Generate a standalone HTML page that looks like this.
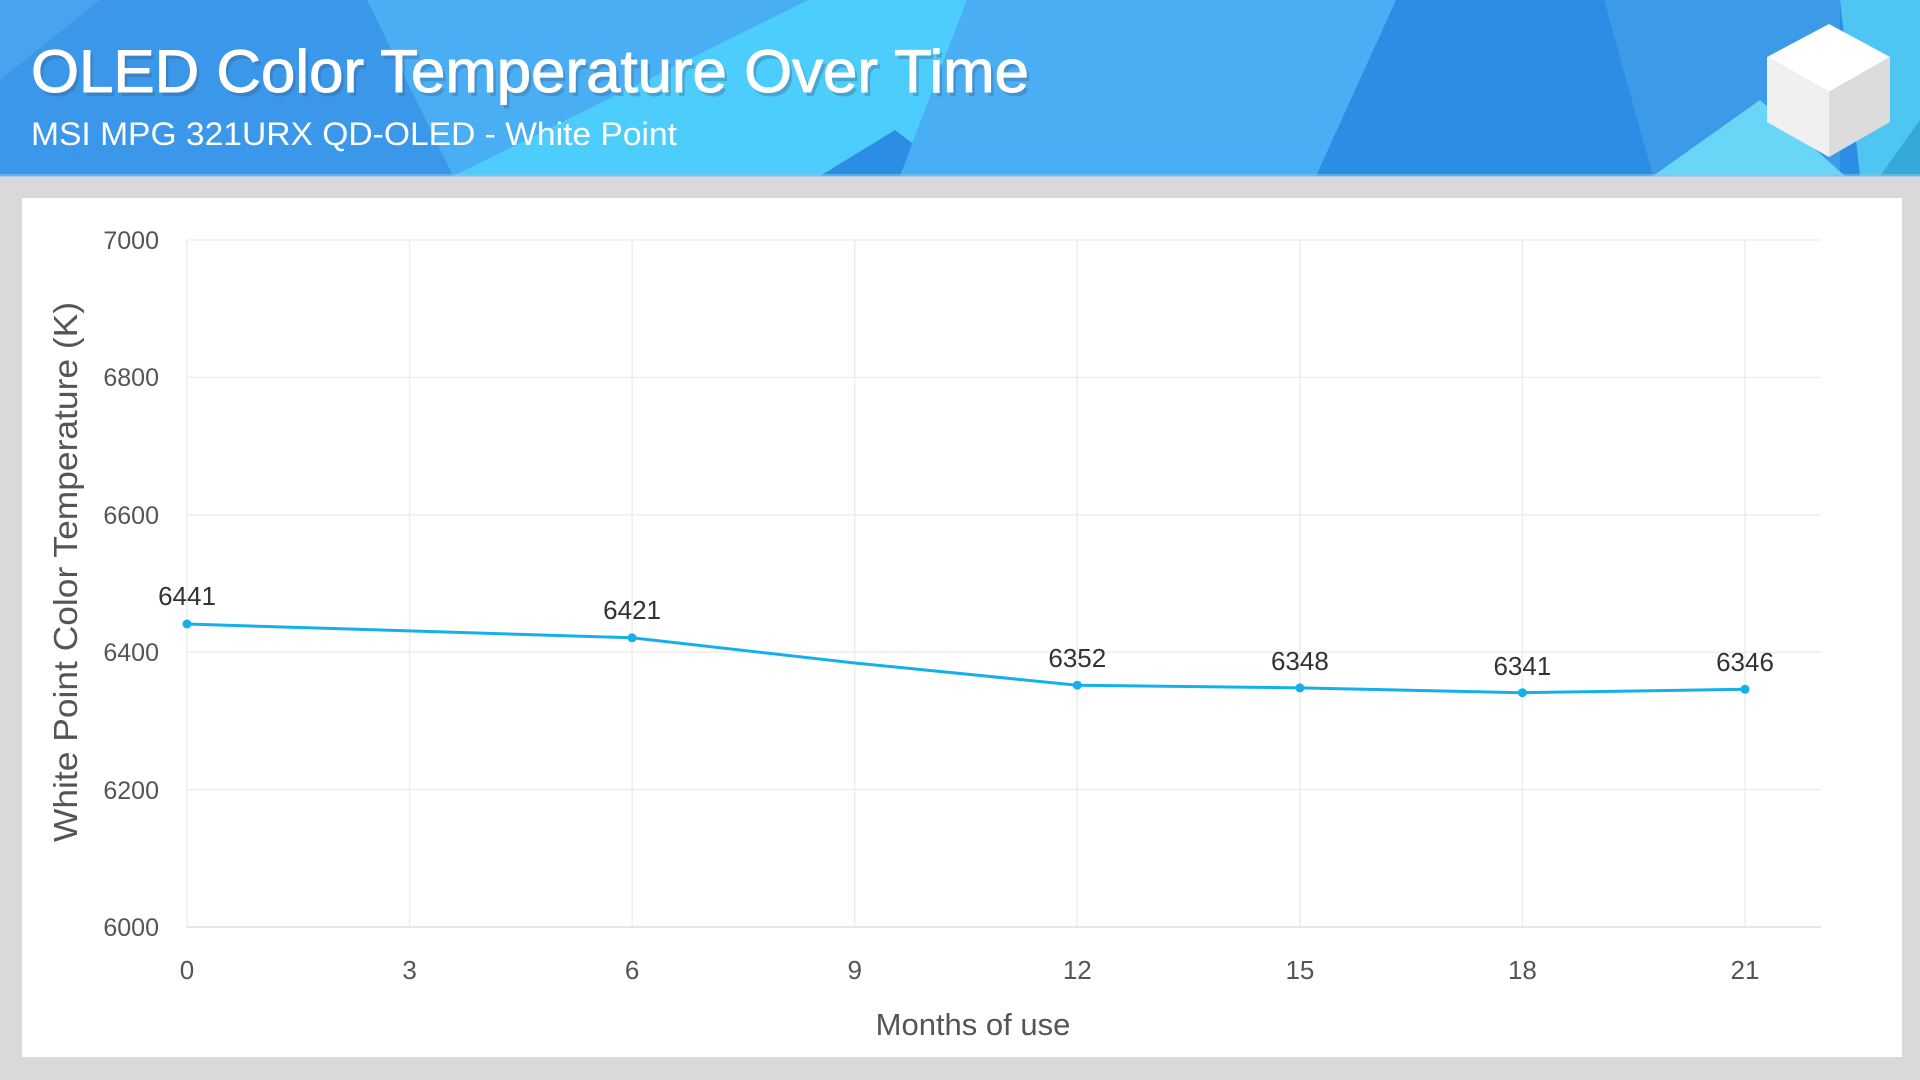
<!DOCTYPE html>
<html><head><meta charset="utf-8"><style>
html,body{margin:0;padding:0;width:1920px;height:1080px;overflow:hidden;background:#d9d9d9}
svg{display:block}
text{font-family:"Liberation Sans","DejaVu Sans",sans-serif}
</style></head><body>
<svg width="1920" height="1080" viewBox="0 0 1920 1080" xmlns="http://www.w3.org/2000/svg">
<rect width="1920" height="1080" fill="#d9d9d9"/>
<rect x="0" y="0" width="1920" height="176" fill="#2b8de3"/>
<polygon points="0,0 367,0 453,176 0,176" fill="#3a97ea"/>
<polygon points="0,80 100,0 0,0" fill="#4aa3ee"/>
<polygon points="367,0 808,0 453,176" fill="#4aaef5"/>
<polygon points="808,0 967,0 900,176 453,176" fill="#4dcdfc"/>
<polygon points="895,130 955,176 820,176" fill="#2b8de3"/>
<polygon points="967,0 1396,0 1316,176 900,176" fill="#4aaef5"/>
<polygon points="1604,0 1840,0 1840,176 1653,176" fill="#3d9ae9"/>
<polygon points="1653,176 1760,100 1845,176" fill="#6ad6f7"/>
<polygon points="1840,0 1920,0 1920,176 1860,176" fill="#4fc6f2"/>
<polygon points="1880,176 1920,120 1920,176" fill="#34a9d8"/>
<rect x="0" y="174" width="1920" height="3" fill="#7fc6f2" opacity="0.6"/>
<text x="31" y="92" font-size="60" fill="#3a5f88" opacity="0.35" textLength="998" lengthAdjust="spacingAndGlyphs" transform="translate(3,4)">OLED Color Temperature Over Time</text>
<text x="31" y="92" font-size="60" fill="#ffffff" stroke="#ffffff" stroke-width="1" textLength="998" lengthAdjust="spacingAndGlyphs">OLED Color Temperature Over Time</text>
<text x="31" y="145" font-size="32" fill="#ffffff" textLength="646" lengthAdjust="spacingAndGlyphs">MSI MPG 321URX QD-OLED - White Point</text>
<polygon points="1829,24 1890,57 1829,92 1767,57" fill="#ffffff"/>
<polygon points="1767,57 1829,92 1829,157 1767,122" fill="#f0f0f0"/>
<polygon points="1829,92 1890,57 1890,122 1829,157" fill="#dcdcdc"/>
<rect x="22" y="198" width="1880" height="859" fill="#ffffff"/>
<g stroke="#ececec" stroke-width="1.3">
<line x1="187" y1="240" x2="1821" y2="240"/>
<line x1="187" y1="377.4" x2="1821" y2="377.4"/>
<line x1="187" y1="514.8" x2="1821" y2="514.8"/>
<line x1="187" y1="652.2" x2="1821" y2="652.2"/>
<line x1="187" y1="789.6" x2="1821" y2="789.6"/>
<line x1="187" y1="240" x2="187" y2="927"/>
<line x1="409.6" y1="240" x2="409.6" y2="927"/>
<line x1="632.1" y1="240" x2="632.1" y2="927"/>
<line x1="854.7" y1="240" x2="854.7" y2="927"/>
<line x1="1077.3" y1="240" x2="1077.3" y2="927"/>
<line x1="1299.9" y1="240" x2="1299.9" y2="927"/>
<line x1="1522.4" y1="240" x2="1522.4" y2="927"/>
<line x1="1745" y1="240" x2="1745" y2="927"/>
</g>
<line x1="187" y1="927" x2="1821" y2="927" stroke="#dddddd" stroke-width="1.5"/>
<g font-size="25" fill="#555" text-anchor="end">
<text x="159" y="249">7000</text>
<text x="159" y="386">6800</text>
<text x="159" y="524">6600</text>
<text x="159" y="661">6400</text>
<text x="159" y="799">6200</text>
<text x="159" y="936">6000</text>
</g>
<g font-size="26" fill="#555" text-anchor="middle">
<text x="187" y="979">0</text>
<text x="409.6" y="979">3</text>
<text x="632.1" y="979">6</text>
<text x="854.7" y="979">9</text>
<text x="1077.3" y="979">12</text>
<text x="1299.9" y="979">15</text>
<text x="1522.4" y="979">18</text>
<text x="1745" y="979">21</text>
</g>
<text x="973" y="1035" font-size="31" fill="#555" text-anchor="middle">Months of use</text>
<text transform="translate(77,572) rotate(-90)" font-size="33" fill="#555" text-anchor="middle" textLength="540" lengthAdjust="spacingAndGlyphs">White Point Color Temperature (K)</text>
<polyline fill="none" stroke="#15b0ea" stroke-width="3" stroke-linejoin="round"
points="187,624 632.1,637.8 854.7,663 1077.3,685.2 1299.9,687.9 1522.4,692.7 1745,689.3"/>
<g fill="#15b0ea">
<circle cx="187" cy="624" r="4.5"/>
<circle cx="632.1" cy="637.8" r="4.5"/>
<circle cx="1077.3" cy="685.2" r="4.5"/>
<circle cx="1299.9" cy="687.9" r="4.5"/>
<circle cx="1522.4" cy="692.7" r="4.5"/>
<circle cx="1745" cy="689.3" r="4.5"/>
</g>
<g font-size="26" fill="#333" text-anchor="middle">
<text x="187" y="605">6441</text>
<text x="632.1" y="619">6421</text>
<text x="1077.3" y="667">6352</text>
<text x="1299.9" y="670">6348</text>
<text x="1522.4" y="675">6341</text>
<text x="1745" y="671">6346</text>
</g>
</svg>
</body></html>
